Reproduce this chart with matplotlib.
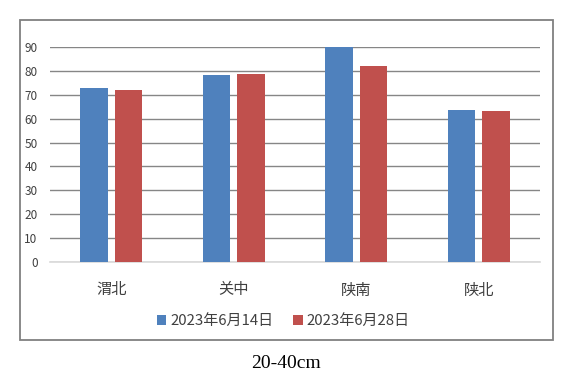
import numpy as np
import matplotlib.pyplot as plt
from matplotlib.patches import Rectangle

plt.rcParams['font.family'] = ['Noto Sans CJK SC', 'DejaVu Sans']

regions = ['渭北', '关中', '陕南', '陕北']
jun14 = [73, 78.3, 89.8, 63.6]
jun28 = [71.8, 78.8, 82.2, 63.2]
series_names = ['2023年6月14日', '2023年6月28日']
title = '20-40cm'

fig = plt.figure(figsize=(5.76, 3.84), dpi=100)
ax = fig.add_axes([50/576, 1 - 262/384, 490/576, 215/384])

x = np.arange(len(regions))
w = 0.225
ax.bar(x - 0.14, jun14, w, color='#4F81BD', label=series_names[0], zorder=3)
ax.bar(x + 0.14, jun28, w, color='#C0504D', label=series_names[1], zorder=3)

ax.set_xlim(-0.5, len(regions) - 0.5)
ax.set_ylim(0, 90)
ax.set_yticks(range(0, 91, 10))
ax.yaxis.grid(True, color='#868686', linewidth=1)
ax.set_axisbelow(True)
for s in ['top', 'right', 'left']:
    ax.spines[s].set_visible(False)
ax.spines['bottom'].set_color('#d9d9d9')
ax.spines['bottom'].set_linewidth(1.2)
ax.tick_params(length=0)
ax.tick_params(axis='y', labelsize=8.5, labelcolor='#404040', pad=9)
ax.set_xticks(x)
ax.set_xticklabels(regions, fontsize=11, color='#404040')
ax.tick_params(axis='x', pad=14)

fig.legend(loc='center', bbox_to_anchor=(283/576, 1 - 321/384), ncol=2,
           frameon=False, fontsize=10.8, handlelength=0.65, handleheight=0.65,
           handletextpad=0.25, columnspacing=1.3, labelcolor='#404040')

fig.patches.append(Rectangle((19.5/576, 1 - 340/384), 533/576, 320.5/384,
                             transform=fig.transFigure, fill=False,
                             edgecolor='#808080', linewidth=1.3))

fig.text(286/576, 1 - 363/384, title, ha='center', va='center',
         fontsize=14, family='Liberation Serif', color='black')

fig.savefig('out.png', dpi=100)
